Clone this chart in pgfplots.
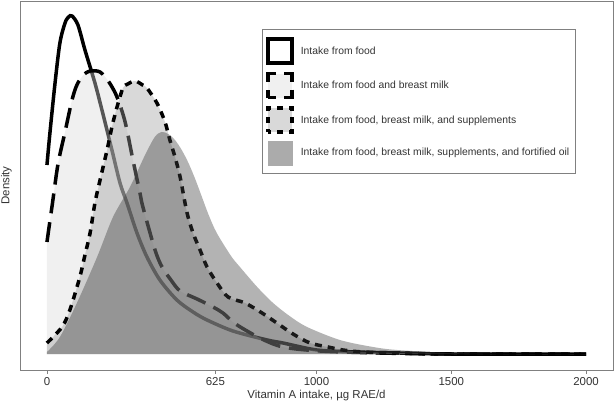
\documentclass[border=0pt]{standalone}
\usepackage{pgfplots}
\pgfplotsset{compat=1.18}
\usepackage{fontspec}
\setmainfont{Liberation Sans}
\usetikzlibrary{calc}

\begin{document}
\begin{tikzpicture}
\begin{axis}[name=ax, scale only axis, width=593bp, height=369bp,
  xmin=-100, xmax=2100, ymin=-16, ymax=353,
  xtick={0,625,1000,1500,2000}, xticklabels={0,625,1000,1500,2000},
  ytick=\empty, xtick pos=left, tick align=outside, major tick length=4bp,
  axis line style={draw=black!50, line width=0.8bp},
  tick style={draw=black!50, line width=0.8bp},
  /pgf/number format/assume math mode=true,
  tick label style={font=\fontsize{11.5}{13}\selectfont, text=black!80},
  xlabel={Vitamin A intake, µg RAE/d}, ylabel={Density},
  label style={font=\fontsize{11.5}{13}\selectfont, text=black!80},
  xlabel style={yshift=2bp},
  ylabel style={at={([xshift=-8bp]rel axis cs:0,0.5)}, anchor=south, inner sep=0pt},
  legend style={at={(rel axis cs:0.408,0.924)}, anchor=north west, draw=black!50, line width=0.8bp,
    font=\fontsize{10.4}{12}\selectfont, text=black!80, fill=white,
    row sep=7bp, column sep=5bp, inner xsep=4bp, inner ysep=8bp, nodes={inner sep=2bp}},
  legend cell align=left,
  legend image code/.code={\path[#1] (0bp,-12bp) rectangle (24bp,12bp);},
]
\pgfplotstableread{
x d
0 189
11 221
30 271
48 311
67 331
80 337
93 338
115 329
141 304
178 271
204 244
241 204
271 171
297 151
334 121
371 97
419 74
482 54
542 42
594 34
690 23
817 14
876 11
1002 4
1150 2
1310 1
1500 0
2000 0
}\food
\pgfplotstableread{
x d
0 112
20 150
41 190
67 222
93 254
111 269
135 279
160 283
197 282
230 272
260 257
290 232
319 194
345 161
356 147
401 104
427 87
460 74
494 63
557 55
616 47
653 41
700 30
790 16
876 7
1013 3
1236 1
1500 0
2000 0
}\bm
\pgfplotstableread{
x d
0 11
56 27
85 44
122 77
141 99
160 121
178 151
197 174
223 204
241 227
260 247
282 266
300 270
327 273
355 269
371 266
408 251
438 232
456 214
475 197
494 177
519 142
542 121
568 104
594 87
631 71
672 57
735 51
798 41
853 31
913 20
976 11
1043 7
1098 4
1173 2
1310 1
1500 0
2000 0
}\supp
\pgfplotstableread{
x d
0 2
48 17
111 51
186 97
245 137
308 167
364 199
400 217
425 222
450 220
475 214
500 204
525 191
550 175
575 157
600 139
630 121
683 98
716 87
780 67
839 51
900 38
965 27
1087 14
1210 7
1300 4
1500 1
1700 0
2000 0
}\oil

% legend entries
\addlegendimage{draw=black, line width=3.5bp, fill=white}
\addlegendentry{Intake from food}
\addlegendimage{draw=black, line width=3.5bp, fill=black!6, dash pattern=on 16bp off 8bp, dash phase=8bp}
\addlegendentry{Intake from food and breast milk}
\addlegendimage{draw=black, line width=3.5bp, fill=black!15, dash pattern=on 6bp off 6bp, dash phase=3bp}
\addlegendentry{Intake from food, breast milk, and supplements}
\addlegendimage{draw=black!33, line width=0.1bp, fill=black!33}
\addlegendentry{Intake from food, breast milk, supplements, and fortified oil}

% series 1
\addplot[forget plot, smooth, draw=black, line width=3.5bp] table[x=x,y=d] {\food};
% series 2
\addplot[forget plot, smooth, draw=none, fill=black!15, fill opacity=0.4] table[x=x,y=d] {\bm} \closedcycle;
\addplot[forget plot, smooth, draw=black, line width=3.5bp, dash pattern=on 20bp off 9bp] table[x=x,y=d] {\bm};
% series 3
\addplot[forget plot, smooth, draw=none, fill=black!37.5, fill opacity=0.4] table[x=x,y=d] {\supp} \closedcycle;
\addplot[forget plot, smooth, draw=black, line width=3.5bp, dash pattern=on 7bp off 6bp] table[x=x,y=d] {\supp};
% series 4
\addplot[forget plot, smooth, draw=none, fill=black!75, fill opacity=0.4] table[x=x,y=d] {\oil} \closedcycle;
\end{axis}
\pgfresetboundingbox
\path ($(ax.south west)+(-20bp,-35bp)$) rectangle ($(ax.north east)+(1bp,1bp)$);
\end{tikzpicture}
\end{document}
